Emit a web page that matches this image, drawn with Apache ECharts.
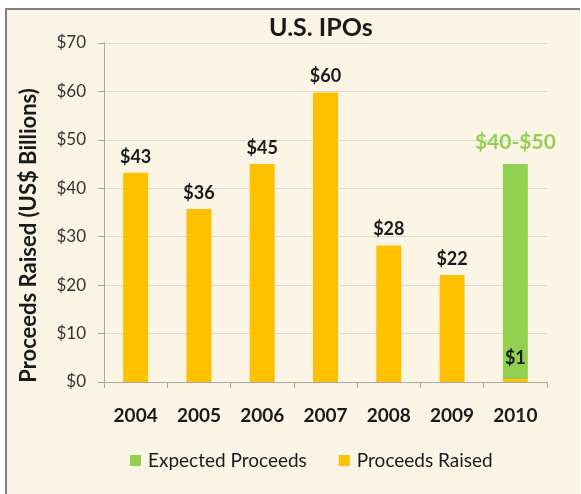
<!DOCTYPE html>
<html>
<head>
<meta charset="utf-8">
<script src="https://cdn.jsdelivr.net/npm/echarts@6/dist/echarts.min.js"></script>
<style>
  html, body { margin: 0; padding: 0; background: #fff; }
  #frame {
    position: absolute; left: 5px; top: 8px; right: 1px; bottom: 0;
    background: #fcf5e5;
    border-left: 2px solid #808080;
    border-top: 2px solid #808080;
  }
  #ipo_chart { position: absolute; left: 0; top: 0; width: 581px; height: 494px; }
</style>
</head>
<body>
<div id="frame"></div>
<div id="ipo_chart"></div>
<script>
// values (US$ billions)
var years = ["2004", "2005", "2006", "2007", "2008", "2009", "2010"];
var raised = [43.2, 35.7, 45, 59.8, 28.2, 22.1, 0.6];
var expected = ["-", "-", "-", "-", "-", "-", 44.4];
var expectedLabels = ["", "", "", "", "", "", "$40-$50"];
var yTicks = [0, 10, 20, 30, 40, 50, 60, 70];

var font = "Lato, 'Open Sans', sans-serif";
var chart = echarts.init(document.getElementById("ipo_chart"));

var option = {
  backgroundColor: "transparent",
  textStyle: { fontFamily: font },
  title: {
    text: "U.S. IPOs",
    left: 264,
    top: 10,
    textStyle: { fontFamily: font, fontSize: 25, fontWeight: "bold", color: "#1a1a1a" }
  },
  legend: {
    data: ["Expected Proceeds", "Proceeds Raised"],
    left: 130,
    top: 451,
    padding: 0,
    itemWidth: 11,
    itemHeight: 11,
    itemGap: 32,
    icon: "rect",
    textStyle: { fontFamily: font, fontSize: 19, color: "#1a1a1a", padding: [0, 0, 0, 2] }
  },
  grid: { left: 104, right: 34, top: 43, bottom: 112 },
  xAxis: {
    type: "category",
    data: years,
    axisLine: { lineStyle: { color: "#a6a6a6", width: 1 } },
    axisTick: { show: true, length: 6, lineStyle: { color: "#a6a6a6" } },
    axisLabel: { margin: 24, fontSize: 19, fontWeight: "bold", color: "#1a1a1a", fontFamily: font }
  },
  yAxis: {
    type: "value",
    min: yTicks[0],
    max: yTicks[yTicks.length - 1],
    interval: 10,
    name: "Proceeds Raised (US$ Billions)",
    nameLocation: "middle",
    nameGap: 64,
    nameTextStyle: {
      fontSize: 22, fontWeight: "bold", color: "#1a1a1a", fontFamily: font,
      padding: [0, 46, 0, 0]
    },
    axisLine: { show: true, lineStyle: { color: "#a6a6a6" } },
    axisTick: { show: true, length: 6, lineStyle: { color: "#a6a6a6" } },
    axisLabel: {
      margin: 18, fontSize: 17, color: "#333", fontFamily: font,
      formatter: function (v) { return "$" + v; }
    },
    splitLine: { lineStyle: { color: "#d9d9d9" } }
  },
  series: [
    {
      name: "Proceeds Raised",
      type: "bar",
      stack: "total",
      barWidth: 25,
      itemStyle: { color: "#ffc000" },
      label: {
        show: true,
        position: "top",
        distance: 7,
        fontSize: 18,
        fontWeight: "bold",
        color: "#1a1a1a",
        fontFamily: font,
        formatter: function (p) { return "$" + Math.round(p.value); }
      },
      data: raised
    },
    {
      name: "Expected Proceeds",
      type: "bar",
      stack: "total",
      barWidth: 25,
      itemStyle: { color: "#92d050" },
      label: {
        show: true,
        position: "top",
        distance: 11,
        fontSize: 21,
        fontWeight: "bold",
        color: "#92d050",
        fontFamily: font,
        formatter: function (p) { return expectedLabels[p.dataIndex]; }
      },
      data: expected
    }
  ]
};

// the tiny 2010 raised label sits inside the green bar
option.series[0].data = raised.map(function (v, i) {
  if (i === raised.length - 1) {
    return { value: v, label: { distance: 12 } };
  }
  return v;
});

chart.setOption(option);
</script>
</body>
</html>
